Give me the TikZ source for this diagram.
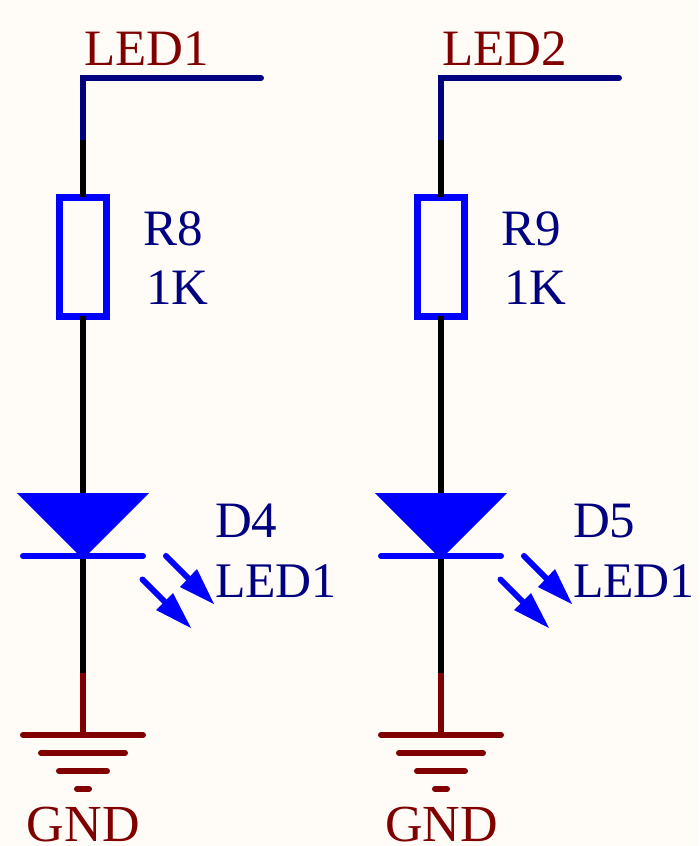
\documentclass[tikz,border=0pt]{standalone}
\usepackage{fontspec}
\setmainfont{Liberation Serif}
\definecolor{paper}{HTML}{FFFCF8}
\definecolor{netnavy}{HTML}{000080}
\definecolor{netred}{HTML}{800000}
\definecolor{symblue}{HTML}{0000FF}
\tikzset{
  wire/.style={line width=6pt,line cap=butt},
  sym/.style={line width=6pt,line cap=round,symblue},
  gndbar/.style={line width=6pt,line cap=round,netred},
  lbl/.style={anchor=base west,inner sep=0pt,outer sep=0pt,font=\fontsize{51}{60}\selectfont},
  lblsmall/.style={lbl,font=\fontsize{49.8}{60}\selectfont},
  lblgnd/.style={lbl,font=\fontsize{52}{60}\selectfont},
  resbox/.style={draw=symblue,line width=6.5pt,rectangle,inner sep=0pt,outer sep=0pt,minimum width=47pt,minimum height=119pt},
  ledfill/.style={fill=symblue,draw=none},
}
\begin{document}
\begin{tikzpicture}[x=1pt,y=-1pt]
\useasboundingbox[fill=paper] (0,0) rectangle (699,846);
\foreach \dx/\net/\rn/\dn/\id in {0/LED1/R8/D4/a,358/LED2/R9/D5/b}{
\begin{scope}[xshift=\dx pt]
  % labels
  \node[lbl,text=netred] (net\id) at (84,65) {\net};
  \node[lbl,text=netnavy] (rname\id) at (143,245) {\rn};
  \node[lbl,text=netnavy] (rval\id) at (146,304) {1K};
  \node[lbl,text=netnavy] (dname\id) at (215,537) {\dn};
  \node[lblsmall,text=netnavy] (dval\id) at (215,597) {LED1};
  \node[lblgnd,text=netred] (gnd\id) at (27,841) {GND};
  % points
  \coordinate (end\id) at (261,78);
  \coordinate (corner\id) at (83,78);
  \coordinate (split\id) at (83,140);
  \coordinate (anode\id) at (83,494);
  \coordinate (cath\id) at (83,556);
  \coordinate (gsplit\id) at (83,673);
  \coordinate (gtop\id) at (83,735);
  % resistor
  \node[resbox] (res\id) at (83,256.75) {};
  % wires
  \draw[wire,netnavy,line join=miter] (split\id) -- (corner\id) -- (end\id);
  \fill[netnavy] (end\id) circle (3pt);
  \draw[wire,black] (split\id) -- (res\id.north);
  \draw[wire,black] (res\id.south) -- (anode\id);
  \draw[wire,black] (cath\id) -- (gsplit\id);
  \draw[wire,netred] (gsplit\id) -- (gtop\id);
  % diode
  \fill[ledfill] (17,493) -- (149,493) -- (83,559) -- cycle;
  \draw[sym] (23,556) -- (143,556);
  % light arrows
  \draw[symblue,line width=6pt,line cap=round] (166,556) -- (190,580);
  \fill[ledfill] (214,604) -- (197,569) -- (180,587) -- cycle;
  \draw[symblue,line width=6pt,line cap=round] (142.5,579.5) -- (166,603);
  \fill[ledfill] (191,628) -- (173,593) -- (156,610) -- cycle;
  % ground
  \draw[gndbar] (23,735) -- (143,735);
  \draw[gndbar] (41,753) -- (125,753);
  \draw[gndbar] (59,771) -- (107,771);
  \draw[gndbar] (77,789) -- (89,789);
\end{scope}
}
\end{tikzpicture}
\end{document}
